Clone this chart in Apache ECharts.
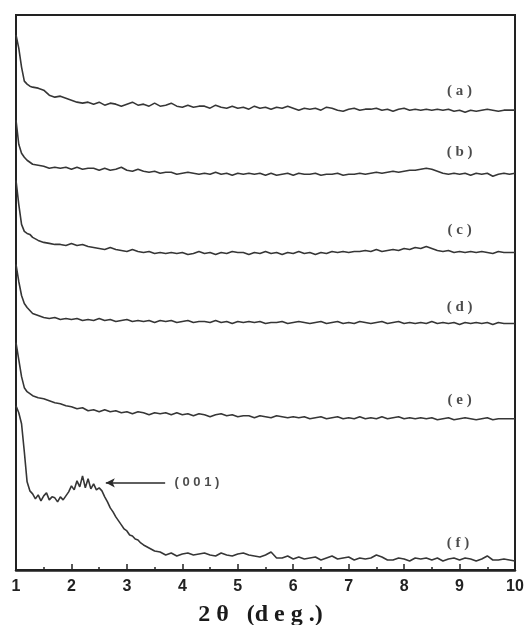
<!DOCTYPE html>
<html>
<head>
<meta charset="utf-8">
<script src="https://cdn.jsdelivr.net/npm/echarts@6/dist/echarts.min.js"></script>
<style>
  html, body { margin: 0; padding: 0; background: #fff; }
  #chart { width: 524px; height: 625px; }
</style>
</head>
<body>
<div id="chart"></div>
<script>
// 2θ sampling grid (deg.) for samples (a)–(e)
const twoTheta = [
  1.0, 1.05, 1.1, 1.15, 1.2, 1.25, 1.3,
  1.4, 1.5, 1.6, 1.7, 1.8, 1.9, 2.0, 2.1, 2.2, 2.3,
  2.4, 2.5, 2.6, 2.7, 2.8, 2.9, 3.0, 3.1, 3.2, 3.3,
  3.4, 3.5, 3.6, 3.7, 3.8, 3.9, 4.0, 4.1, 4.2, 4.3,
  4.4, 4.5, 4.6, 4.7, 4.8, 4.9, 5.0, 5.1, 5.2, 5.3,
  5.4, 5.5, 5.6, 5.7, 5.8, 5.9, 6.0, 6.1, 6.2, 6.3,
  6.4, 6.5, 6.6, 6.7, 6.8, 6.9, 7.0, 7.1, 7.2, 7.3,
  7.4, 7.5, 7.6, 7.7, 7.8, 7.9, 8.0, 8.1, 8.2, 8.3,
  8.4, 8.5, 8.6, 8.7, 8.8, 8.9, 9.0, 9.1, 9.2, 9.3,
  9.4, 9.5, 9.6, 9.7, 9.8, 9.9, 10.0
];

// finer grid around the (001) reflection for sample (f)
const twoThetaF = [
  1.0, 1.05, 1.1, 1.15, 1.2, 1.25,
  1.3, 1.35, 1.4, 1.45, 1.5, 1.55, 1.6, 1.65, 1.7, 1.75,
  1.8, 1.85, 1.9, 1.95, 2.0, 2.05, 2.1, 2.15, 2.2, 2.25,
  2.3, 2.35, 2.4, 2.45, 2.5, 2.55, 2.6, 2.65, 2.7, 2.75,
  2.8, 2.85, 2.9, 2.95, 3.0, 3.05, 3.1, 3.15, 3.2, 3.25, 3.3,
  3.4, 3.5, 3.6, 3.7, 3.8, 3.9, 4.0, 4.1, 4.2, 4.3,
  4.4, 4.5, 4.6, 4.7, 4.8, 4.9, 5.0, 5.1, 5.2, 5.3,
  5.4, 5.5, 5.6, 5.7, 5.8, 5.9, 6.0, 6.1, 6.2, 6.3,
  6.4, 6.5, 6.6, 6.7, 6.8, 6.9, 7.0, 7.1, 7.2, 7.3,
  7.4, 7.5, 7.6, 7.7, 7.8, 7.9, 8.0, 8.1, 8.2, 8.3,
  8.4, 8.5, 8.6, 8.7, 8.8, 8.9, 9.0, 9.1, 9.2, 9.3,
  9.4, 9.5, 9.6, 9.7, 9.8, 9.9, 10.0
];

// Intensities (arb. units, curves stacked with vertical offsets)
const intensityA = [
  534, 521, 502, 488, 485, 483, 482,
  481, 479, 474, 472, 473, 471, 469, 467, 466, 467,
  465, 467, 464, 466, 465, 463, 465, 467, 464, 465,
  463, 466, 463, 464, 466, 463, 462, 464, 462, 463,
  463, 461, 464, 462, 461, 463, 461, 462, 460, 463,
  461, 462, 460, 462, 461, 463, 461, 459, 461, 460,
  461, 459, 462, 461, 459, 458, 460, 461, 459, 460,
  460, 461, 459, 460, 458, 460, 461, 459, 460, 459,
  460, 459, 460, 459, 460, 458, 459, 457, 459, 458,
  459, 460, 459, 458, 459, 459, 459
];
const intensityB = [
  449, 425, 416, 412, 409, 407, 405,
  404, 403, 401, 402, 401, 402, 400, 402, 400, 401,
  401, 399, 401, 399, 400, 402, 399, 398, 400, 398,
  397, 398, 396, 397, 397, 395, 396, 397, 396, 395,
  396, 395, 397, 395, 396, 394, 396, 395, 396, 395,
  396, 394, 396, 394, 395, 396, 394, 396, 395, 395,
  396, 394, 395, 395, 396, 394, 395, 395, 396, 395,
  396, 397, 396, 397, 398, 397, 398, 399, 399, 400,
  401, 400, 398, 396, 395, 396, 395, 396, 394, 396,
  395, 396, 393, 395, 396, 395, 396
];
const intensityC = [
  389, 365, 345, 338, 336, 335, 332,
  329, 327, 326, 325, 325, 324, 326, 324, 325, 323,
  322, 321, 320, 322, 320, 319, 318, 320, 318, 317,
  318, 316, 317, 316, 317, 316, 317, 315, 316, 318,
  316, 317, 315, 317, 316, 318, 317, 317, 315, 317,
  316, 318, 316, 317, 315, 317, 316, 318, 316, 317,
  315, 317, 316, 318, 317, 318, 317, 318, 318, 319,
  318, 320, 318, 319, 320, 319, 321, 320, 322, 321,
  323, 321, 319, 318, 319, 317, 318, 317, 318, 317,
  318, 317, 316, 318, 317, 317, 317
];
const intensityD = [
  305, 288, 274, 266, 262, 259, 256,
  254, 252, 251, 252, 250, 251, 250, 251, 249, 250,
  249, 251, 249, 250, 248, 249, 250, 248, 249, 248,
  249, 247, 249, 248, 249, 247, 248, 249, 247, 248,
  248, 247, 249, 247, 248, 246, 248, 247, 248, 247,
  248, 246, 247, 247, 248, 246, 247, 248, 247, 246,
  247, 248, 246, 247, 248, 246, 247, 246, 248, 247,
  246, 247, 248, 246, 247, 248, 246, 247, 246, 247,
  246, 248, 246, 247, 246, 247, 245, 247, 246, 247,
  246, 247, 245, 247, 246, 246, 246
];
const intensityE = [
  227, 210, 193, 182, 178, 176, 174,
  172, 171, 169, 167, 166, 164, 163, 161, 162, 159,
  160, 158, 160, 158, 159, 157, 158, 156, 158, 157,
  155, 157, 156, 157, 155, 157, 155, 156, 154, 156,
  155, 153, 155, 156, 154, 155, 153, 154, 154, 152,
  154, 153, 152, 154, 153, 152, 153, 152, 153, 151,
  152, 153, 151, 152, 153, 151, 152, 151, 153, 151,
  152, 151, 153, 151, 152, 153, 151, 152, 151, 152,
  151, 152, 150, 151, 152, 150, 151, 152, 151, 150,
  151, 152, 150, 151, 151, 151, 151
];
const intensityF = [
  164, 157, 146, 118, 88, 79,
  76, 71, 75, 69, 74, 77, 70, 73, 72, 68,
  73, 70, 74, 78, 84, 80, 89, 83, 94, 82,
  91, 81, 86, 80, 82, 79, 73, 68, 62, 58,
  53, 49, 45, 41, 39, 35, 34, 31, 30, 27, 25,
  22, 19, 18, 15, 17, 14, 16, 17, 15, 16,
  17, 15, 14, 17, 15, 14, 16, 17, 15, 14,
  13, 15, 18, 12, 12, 14, 11, 13, 11, 12,
  13, 10, 12, 14, 11, 12, 13, 10, 12, 11,
  12, 15, 13, 10, 10, 12, 11, 9, 12, 11,
  12, 10, 12, 9, 11, 12, 10, 12, 11, 9,
  11, 14, 10, 10, 11, 10, 9
];

const sampleNames = ['( a )', '( b )', '( c )', '( d )', '( e )', '( f )'];
const sampleLabelPos = [[9.0, 478], [9.0, 417], [9.0, 339], [9.0, 262], [9.0, 170], [8.97, 27]];
const xTicks = [1, 2, 3, 4, 5, 6, 7, 8, 9, 10];

// (001) reflection marker
const peakArrow = { from: [3.69, 87], to: [2.62, 87] };
const peakText = { pos: [3.86, 87], text: '( 0 0 1 )' };

const curves = [
  { x: twoTheta, y: intensityA },
  { x: twoTheta, y: intensityB },
  { x: twoTheta, y: intensityC },
  { x: twoTheta, y: intensityD },
  { x: twoTheta, y: intensityE },
  { x: twoThetaF, y: intensityF }
];

const lineColor = '#363636';

const series = curves.map((c, i) => ({
  type: 'line',
  name: sampleNames[i],
  data: c.x.map((x, k) => [x, c.y[k]]),
  showSymbol: false,
  symbol: 'none',
  silent: true,
  lineStyle: { color: lineColor, width: 1.6 },
  z: 3
}));

// arrow to the (001) peak
series[5].markLine = {
  silent: true,
  symbol: ['none', 'arrow'],
  symbolSize: [7, 9],
  lineStyle: { color: '#2a2a2a', width: 1.6, type: 'solid' },
  label: { show: false },
  data: [[{ coord: peakArrow.from }, { coord: peakArrow.to }]]
};

// sample tags
series.push({
  type: 'scatter',
  silent: true,
  symbolSize: 0,
  data: sampleLabelPos.map((p, i) => ({ value: p, name: sampleNames[i] })),
  label: {
    show: true,
    position: 'inside',
    formatter: p => p.name,
    fontFamily: 'Liberation Serif',
    fontWeight: 'bold',
    fontSize: 15,
    color: '#1e1e1e'
  }
});

series.push({
  type: 'scatter',
  silent: true,
  symbolSize: 0,
  data: [{ value: peakText.pos, name: peakText.text }],
  label: {
    show: true,
    position: 'right',
    distance: 0,
    formatter: p => p.name,
    fontFamily: 'Liberation Sans',
    fontWeight: 'bold',
    fontSize: 13,
    color: '#1e1e1e'
  }
});

const chart = echarts.init(document.getElementById('chart'), null, { renderer: 'canvas' });
chart.setOption({
  backgroundColor: '#fff',
  animation: false,
  grid: {
    left: 16, right: 9, top: 15, bottom: 55,
    outerBoundsMode: 'none',
    containLabel: false,
    show: true,
    borderColor: '#222',
    borderWidth: 2,
    backgroundColor: 'transparent'
  },
  xAxis: {
    type: 'value',
    min: 1, max: 10, interval: 1,
    name: '2 θ   (d e g .)',
    nameLocation: 'middle',
    nameGap: 33,
    nameTextStyle: {
      fontFamily: 'Liberation Serif',
      fontWeight: 'bold',
      fontSize: 24,
      color: '#1a1a1a',
      padding: [0, 10, 0, 0]
    },
    axisLine: { show: true, lineStyle: { color: '#222', width: 2.5 } },
    axisTick: { show: true, inside: true, length: 6, lineStyle: { color: '#222', width: 1.5 } },
    minorTick: { show: true, splitNumber: 2, length: 3, lineStyle: { color: '#222', width: 1.5 } },
    axisLabel: {
      margin: 9,
      fontFamily: 'Liberation Sans',
      fontWeight: 'bold',
      fontSize: 16,
      color: '#222',
      formatter: v => (xTicks.includes(v) ? String(v) : '')
    },
    splitLine: { show: false }
  },
  yAxis: {
    type: 'value',
    min: 0, max: 554,
    show: false
  },
  series
});
</script>
</body>
</html>
